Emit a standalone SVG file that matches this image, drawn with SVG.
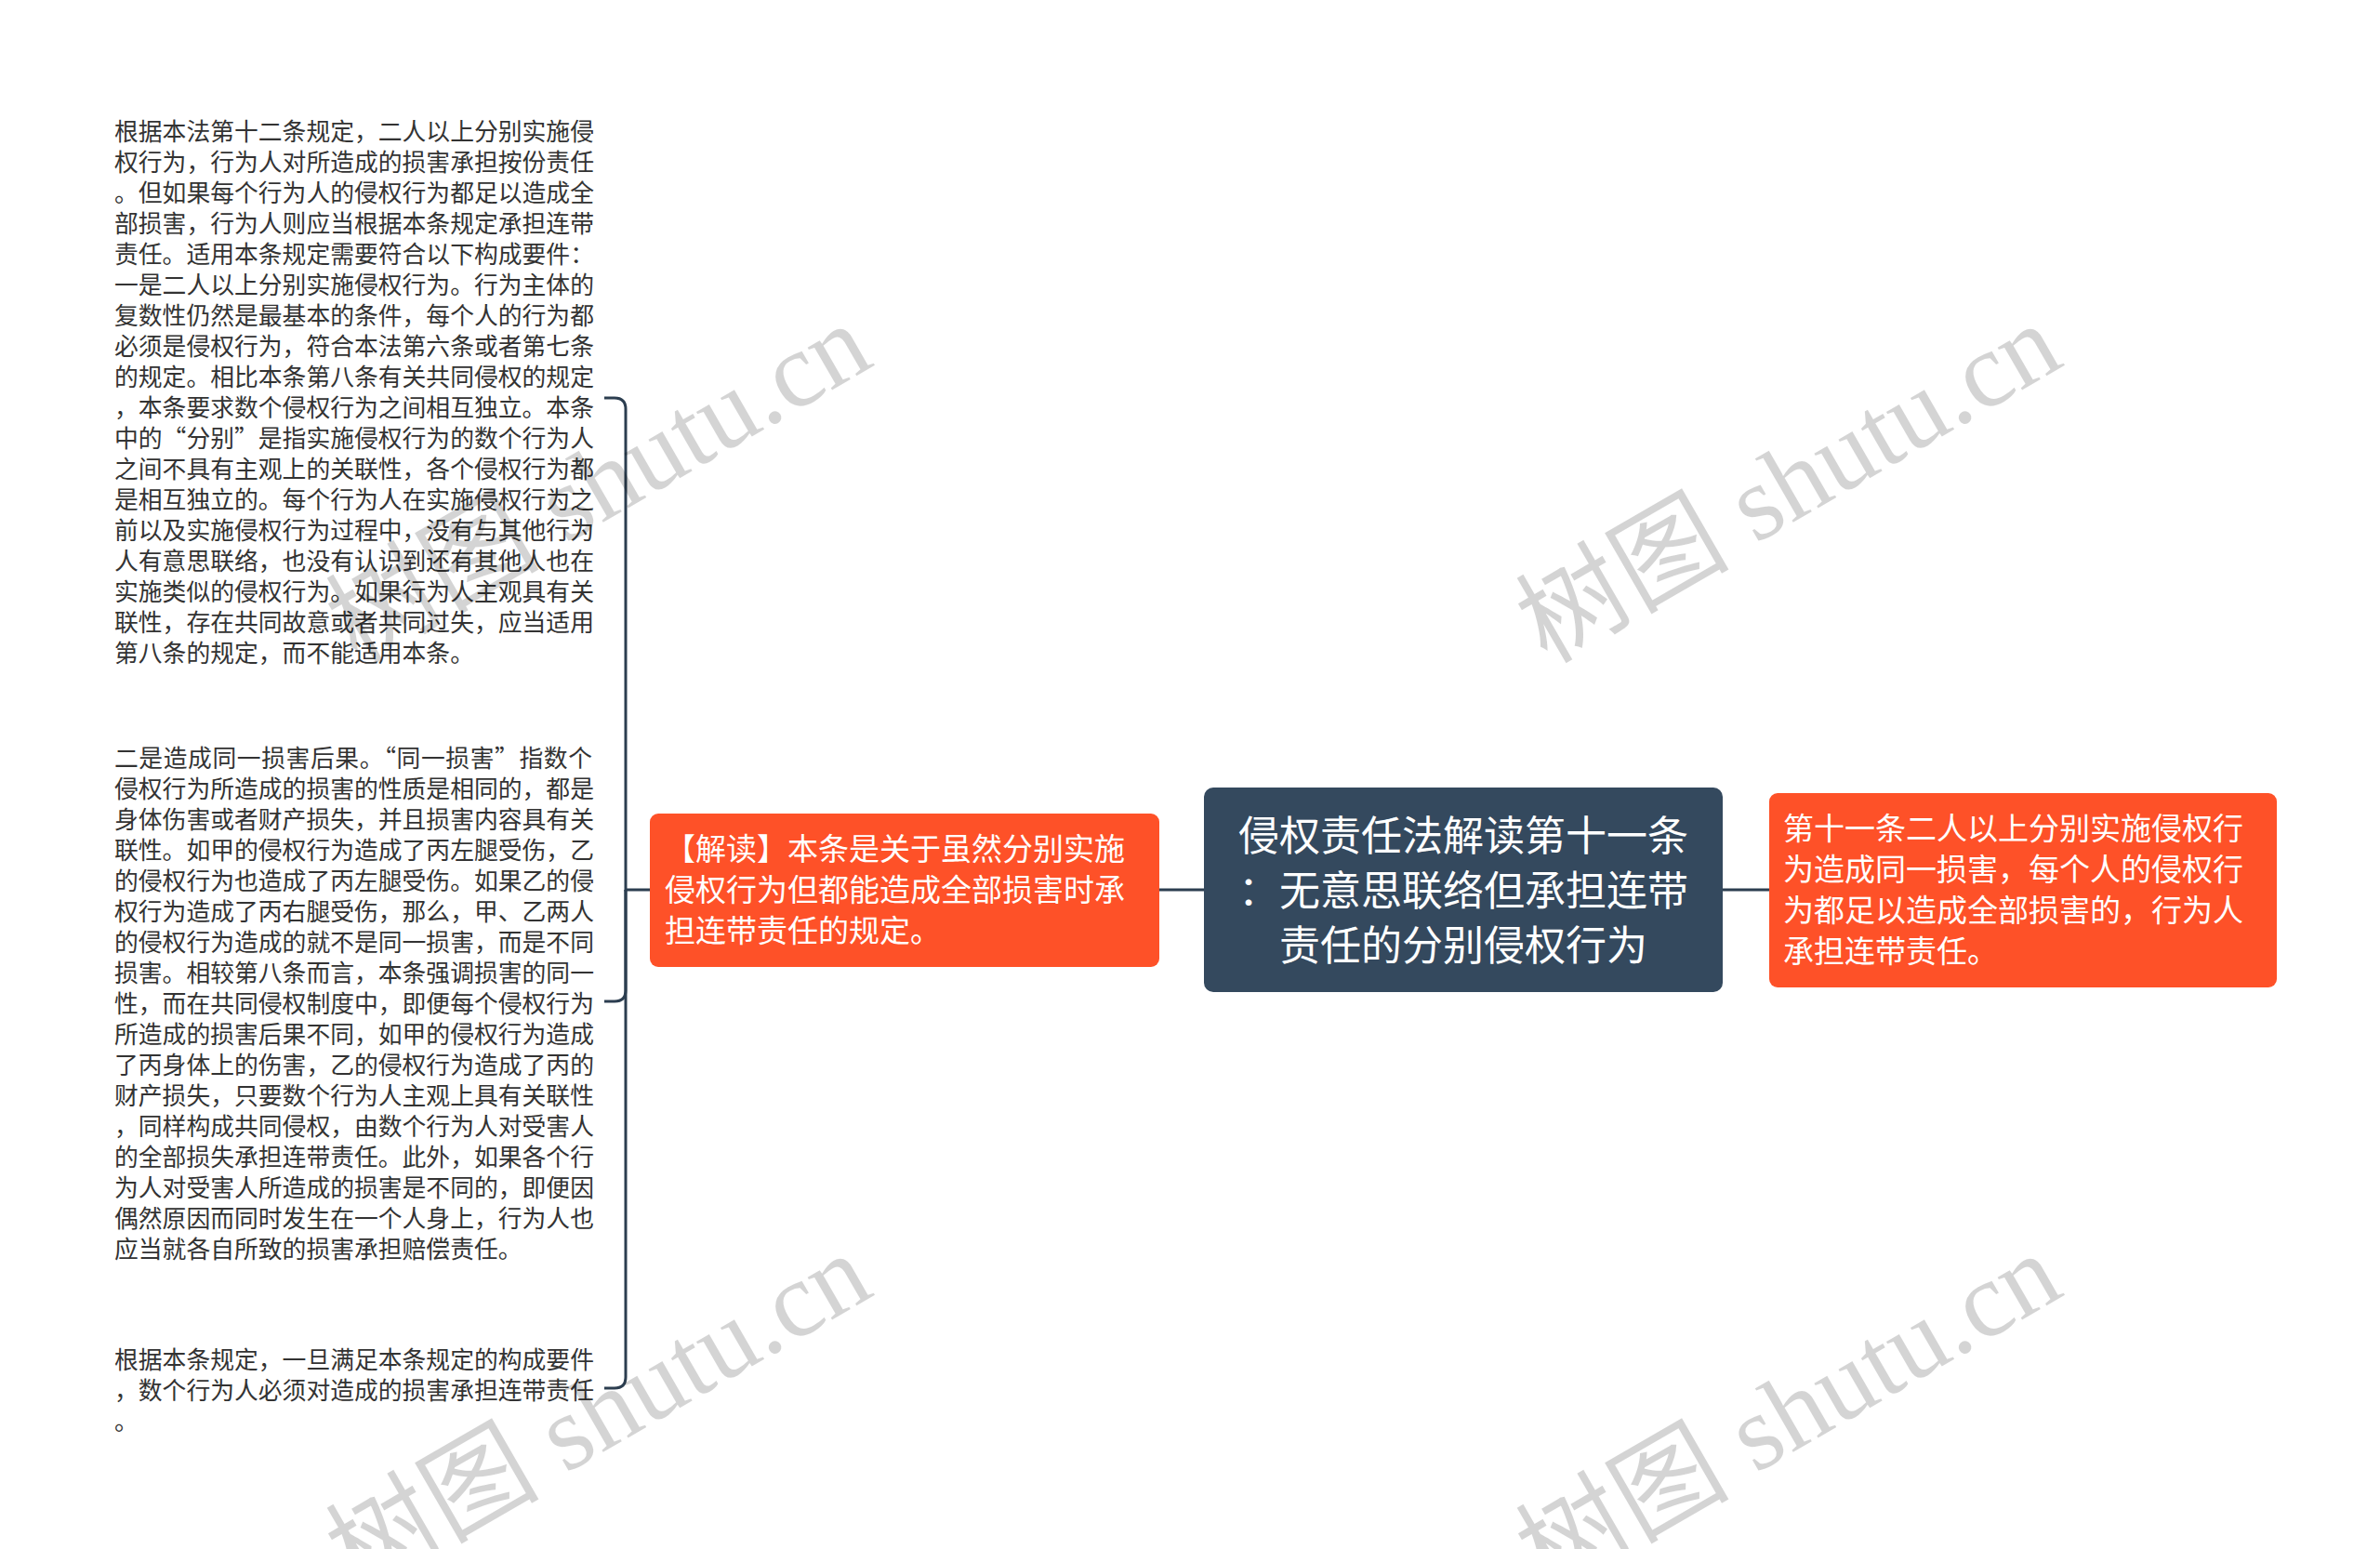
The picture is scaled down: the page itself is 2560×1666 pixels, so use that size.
<svg xmlns="http://www.w3.org/2000/svg" width="2560" height="1666" viewBox="0 0 2560 1666">
<style>
.body{font-family:"Noto Sans CJK SC","Noto Sans",sans-serif;font-size:25.8px;fill:#333333;}
.nodeText{font-family:"Noto Sans CJK SC","Noto Sans",sans-serif;font-size:33px;fill:#ffffff;}
.rootText{font-family:"Noto Sans CJK SC","Noto Sans",sans-serif;font-size:44px;fill:#ffffff;text-anchor:middle;}
.orange{fill:#fe5128;}
.root{fill:#34495e;}
.link{fill:none;stroke:#2c3e50;stroke-width:3;}
.wm{font-family:"Liberation Serif","Noto Sans CJK SC",serif;font-size:115px;fill:#000000;fill-opacity:0.17;text-anchor:middle;dominant-baseline:central;}
</style>
<rect width="2560" height="1666" fill="#ffffff"/>
<g id="connectors">
<path class="link" d="M1853,957 H1903"/>
<path class="link" d="M1296,957 H1247"/>
<path class="link" d="M699,957 H673 V440 Q673,428 661,428 H650"/>
<path class="link" d="M673,957 V1065 Q673,1077 661,1077 H650"/>
<path class="link" d="M673,957 V1481 Q673,1493 661,1493 H650"/>
</g>
<g id="root">
<rect class="root" x="1295" y="847" width="558" height="220" rx="10"/>
<text class="rootText" x="1574" y="915">侵权责任法解读第十一条</text>
<text class="rootText" x="1574" y="974">：无意思联络但承担连带</text>
<text class="rootText" x="1574" y="1033">责任的分别侵权行为</text>
</g>
<g id="right-node">
<rect class="orange" x="1903" y="853" width="546" height="209" rx="9"/>
<text class="nodeText" x="1918" y="903">第十一条二人以上分别实施侵权行</text>
<text class="nodeText" x="1918" y="947">为造成同一损害，每个人的侵权行</text>
<text class="nodeText" x="1918" y="991">为都足以造成全部损害的，行为人</text>
<text class="nodeText" x="1918" y="1035">承担连带责任。</text>
</g>
<g id="left-node">
<rect class="orange" x="699" y="875" width="548" height="165" rx="9"/>
<text class="nodeText" x="715" y="925">【解读】本条是关于虽然分别实施</text>
<text class="nodeText" x="715" y="969">侵权行为但都能造成全部损害时承</text>
<text class="nodeText" x="715" y="1013">担连带责任的规定。</text>
</g>
<g id="text-1">
<text class="body" x="123" y="151">根据本法第十二条规定，二人以上分别实施侵</text>
<text class="body" x="123" y="184">权行为，行为人对所造成的损害承担按份责任</text>
<text class="body" x="123" y="217">。但如果每个行为人的侵权行为都足以造成全</text>
<text class="body" x="123" y="250">部损害，行为人则应当根据本条规定承担连带</text>
<text class="body" x="123" y="283">责任。适用本条规定需要符合以下构成要件：</text>
<text class="body" x="123" y="316">一是二人以上分别实施侵权行为。行为主体的</text>
<text class="body" x="123" y="349">复数性仍然是最基本的条件，每个人的行为都</text>
<text class="body" x="123" y="382">必须是侵权行为，符合本法第六条或者第七条</text>
<text class="body" x="123" y="415">的规定。相比本条第八条有关共同侵权的规定</text>
<text class="body" x="123" y="448">，本条要求数个侵权行为之间相互独立。本条</text>
<text class="body" x="123" y="481">中的“分别”是指实施侵权行为的数个行为人</text>
<text class="body" x="123" y="514">之间不具有主观上的关联性，各个侵权行为都</text>
<text class="body" x="123" y="547">是相互独立的。每个行为人在实施侵权行为之</text>
<text class="body" x="123" y="580">前以及实施侵权行为过程中，没有与其他行为</text>
<text class="body" x="123" y="613">人有意思联络，也没有认识到还有其他人也在</text>
<text class="body" x="123" y="646">实施类似的侵权行为。如果行为人主观具有关</text>
<text class="body" x="123" y="679">联性，存在共同故意或者共同过失，应当适用</text>
<text class="body" x="123" y="712">第八条的规定，而不能适用本条。</text>
</g>
<g id="text-2">
<text class="body" x="123" y="825" textLength="514" lengthAdjust="spacing">二是造成同一损害后果。“同一损害”指数个</text>
<text class="body" x="123" y="858">侵权行为所造成的损害的性质是相同的，都是</text>
<text class="body" x="123" y="891">身体伤害或者财产损失，并且损害内容具有关</text>
<text class="body" x="123" y="924">联性。如甲的侵权行为造成了丙左腿受伤，乙</text>
<text class="body" x="123" y="957">的侵权行为也造成了丙左腿受伤。如果乙的侵</text>
<text class="body" x="123" y="990">权行为造成了丙右腿受伤，那么，甲、乙两人</text>
<text class="body" x="123" y="1023">的侵权行为造成的就不是同一损害，而是不同</text>
<text class="body" x="123" y="1056">损害。相较第八条而言，本条强调损害的同一</text>
<text class="body" x="123" y="1089">性，而在共同侵权制度中，即便每个侵权行为</text>
<text class="body" x="123" y="1122">所造成的损害后果不同，如甲的侵权行为造成</text>
<text class="body" x="123" y="1155">了丙身体上的伤害，乙的侵权行为造成了丙的</text>
<text class="body" x="123" y="1188">财产损失，只要数个行为人主观上具有关联性</text>
<text class="body" x="123" y="1221">，同样构成共同侵权，由数个行为人对受害人</text>
<text class="body" x="123" y="1254">的全部损失承担连带责任。此外，如果各个行</text>
<text class="body" x="123" y="1287">为人对受害人所造成的损害是不同的，即便因</text>
<text class="body" x="123" y="1320">偶然原因而同时发生在一个人身上，行为人也</text>
<text class="body" x="123" y="1353">应当就各自所致的损害承担赔偿责任。</text>
</g>
<g id="text-3">
<text class="body" x="123" y="1472">根据本条规定，一旦满足本条规定的构成要件</text>
<text class="body" x="123" y="1505">，数个行为人必须对造成的损害承担连带责任</text>
<text class="body" x="123" y="1538">。</text>
</g>
<g id="watermarks">
<text class="wm" transform="translate(644,520) rotate(-30)">树图 shutu.cn</text>
<text class="wm" transform="translate(1924,520) rotate(-30)">树图 shutu.cn</text>
<text class="wm" transform="translate(644,1520) rotate(-30)">树图 shutu.cn</text>
<text class="wm" transform="translate(1924,1520) rotate(-30)">树图 shutu.cn</text>
</g>
</svg>
